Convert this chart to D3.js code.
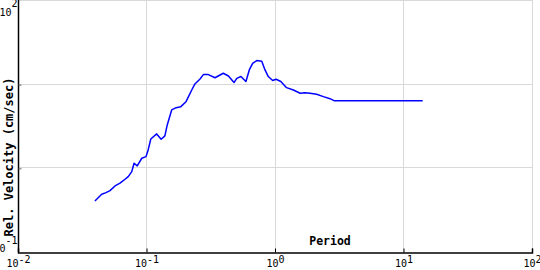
<!DOCTYPE html>
<html>
<head>
<meta charset="utf-8">
<script src="https://cdn.jsdelivr.net/npm/d3@7"></script>
<style>
  html, body { margin: 0; padding: 0; background: #fff; }
  svg { display: block; }
  text { font-family: "DejaVu Sans Mono", "Liberation Mono", monospace; fill: #000; }
</style>
</head>
<body>
<svg id="chart" width="540" height="270"></svg>
<script>
// Data (period in s, relative velocity in cm/sec)
const period = [0.0397, 0.0448, 0.0484, 0.052, 0.0569, 0.0622, 0.0681, 0.0721, 0.0768, 0.080,
  0.0847, 0.0919, 0.0991, 0.103, 0.108, 0.120, 0.130, 0.139, 0.145, 0.157,
  0.170, 0.185, 0.203, 0.225, 0.238, 0.261, 0.277, 0.303, 0.341, 0.396,
  0.434, 0.480, 0.504, 0.543, 0.594, 0.631, 0.670, 0.722, 0.789, 0.836,
  0.887, 0.959, 1.02, 1.11, 1.23, 1.39, 1.57, 1.71, 1.87, 2.11,
  2.38, 2.68, 2.88, 4.0, 6.0, 9.0, 14.1];
const velocity = [0.408, 0.491, 0.513, 0.542, 0.616, 0.664, 0.741, 0.796, 0.914, 1.15,
  1.07, 1.32, 1.38, 1.66, 2.24, 2.58, 2.23, 2.44, 3.30, 4.99,
  5.31, 5.46, 6.26, 8.64, 10.2, 11.7, 13.2, 13.2, 12.1, 13.7,
  12.7, 10.6, 11.9, 12.5, 10.9, 15.0, 18.0, 19.4, 19.0, 15.0,
  12.5, 11.2, 11.6, 10.9, 9.21, 8.64, 7.89, 8.03, 7.89, 7.68,
  7.19, 6.80, 6.44, 6.44, 6.44, 6.44, 6.44];
const xTickValues = [0.01, 0.1, 1, 10, 100];
const xTickExps = ["-2", "-1", "0", "1", "2"];
const yGridValues = [1, 10, 100];
const yLabelValues = [100, 0.1];
const yLabelExps = ["2", "-1"];
const xTitle = "Period";
const yTitle = "Rel. Velocity (cm/sec)";

const svg = d3.select("#chart");
const mLeft = 18, mRight = 532, mTop = 1, mBottom = 252;

const x = d3.scaleLog().domain([0.01, 100]).range([mLeft, mRight]);
const y = d3.scaleLog().domain([0.1, 100]).range([mBottom, mTop]);

// gridlines
const grid = svg.append("g");
grid.selectAll("line.vx").data(xTickValues.slice(1)).join("line")
  .attr("x1", d => Math.round(x(d)) + 0.5).attr("x2", d => Math.round(x(d)) + 0.5)
  .attr("y1", mTop - 1).attr("y2", mBottom)
  .attr("stroke", "#d9d9d9").attr("stroke-width", 1);
grid.selectAll("line.hy").data(yGridValues).join("line")
  .attr("x1", mLeft).attr("x2", mRight)
  .attr("y1", d => Math.round(y(d)) - 0.5).attr("y2", d => Math.round(y(d)) - 0.5)
  .attr("stroke", "#d9d9d9").attr("stroke-width", 1);

// axes
const xAxis = d3.axisBottom(x).tickValues(xTickValues).tickSize(-4).tickFormat("");
const gx = svg.append("g").attr("transform", `translate(0,${mBottom + 0.5})`).call(xAxis);
gx.select(".domain").attr("stroke", "#000").attr("stroke-width", 1.5);
gx.selectAll(".tick line").attr("stroke", "#000");

const yAxis = d3.axisLeft(y).tickValues([1, 10]).tickSize(-3).tickFormat("");
const gy = svg.append("g").attr("transform", `translate(${mLeft + 0.5},0)`).call(yAxis);
gy.select(".domain").attr("stroke", "#000").attr("stroke-width", 1.5).attr("d", `M0,${mTop - 1}V${mBottom}`);
gy.selectAll(".tick line").attr("stroke", "#666");

// x tick labels
const xl = svg.append("g");
xTickValues.forEach((v, i) => {
  const t = xl.append("text").attr("x", x(v) + 0.5).attr("y", 267)
    .attr("text-anchor", "middle").attr("font-size", 10);
  t.append("tspan").text("10");
  t.append("tspan").attr("dy", -4).text(xTickExps[i]);
});

// y tick labels
const yl = svg.append("g");
yLabelValues.forEach((v, i) => {
  const base = i === 0 ? y(v) + 15 : y(v);
  const t = yl.append("text").attr("x", 17.5).attr("y", base)
    .attr("text-anchor", "end").attr("font-size", 10);
  t.append("tspan").text("10");
  t.append("tspan").attr("dy", i === 0 ? -9 : -8).text(yLabelExps[i]);
});

// axis titles
svg.append("text").attr("x", 330).attr("y", 245).attr("text-anchor", "middle")
  .attr("font-size", 11.5).attr("font-weight", "bold").text(xTitle);
svg.append("text").attr("transform", "translate(13,157) rotate(-90)")
  .attr("text-anchor", "middle").attr("font-size", 12).attr("font-weight", "bold").text(yTitle);

// curve
const line = d3.line().x(d => x(d[0])).y(d => y(d[1]));
svg.append("path").datum(period.map((p, i) => [p, velocity[i]]))
  .attr("d", line).attr("fill", "none").attr("stroke", "#0000ff").attr("stroke-width", 1.5)
  .attr("stroke-linejoin", "round");
</script>
</body>
</html>
